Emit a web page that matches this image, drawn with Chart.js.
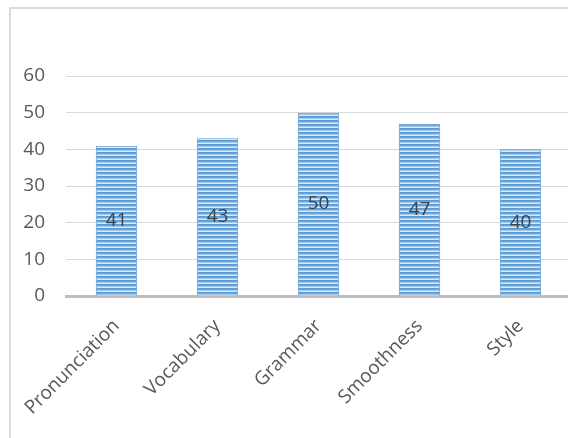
<!DOCTYPE html>
<html>
<head>
<meta charset="utf-8">
<script src="https://cdn.jsdelivr.net/npm/chart.js@4.4.1/dist/chart.umd.min.js"></script>
<style>
  html, body { margin: 0; padding: 0; background: #fff; overflow: hidden; width: 568px; height: 438px; }
  #frame { position: absolute; left: 9px; top: 7px; width: 800px; height: 800px; border-left: 2px solid #dcdcdc; border-top: 2px solid #dcdcdc; }
  #wrap { position: absolute; left: 0; top: 0; width: 600px; height: 438px; }
</style>
</head>
<body>
<div id="frame"></div>
<div id="wrap"><canvas id="c"></canvas></div>
<script>
const categories = ['Pronunciation', 'Vocabulary', 'Grammar', 'Smoothness', 'Style'];
const values = [41, 43, 50, 47, 40];
const yTicks = [0, 10, 20, 30, 40, 50, 60];

function stripePattern() {
  const p = document.createElement('canvas');
  p.width = 4; p.height = 4;
  const g = p.getContext('2d');
  g.fillStyle = '#5b9bd5'; g.fillRect(0, 0, 4, 1);
  g.fillStyle = '#6aa4db'; g.fillRect(0, 1, 4, 1);
  g.fillStyle = '#a6c9ea'; g.fillRect(0, 2, 4, 1);
  g.fillStyle = '#dbe9f7'; g.fillRect(0, 3, 4, 1);
  return document.getElementById('c').getContext('2d').createPattern(p, 'repeat');
}

const labelPlugin = {
  id: 'centerLabels',
  afterDatasetsDraw(chart) {
    const ctx = chart.ctx;
    const meta = chart.getDatasetMeta(0);
    ctx.save();
    ctx.font = '19px "Open Sans"';
    ctx.fillStyle = '#404040';
    ctx.textAlign = 'center';
    ctx.textBaseline = 'middle';
    meta.data.forEach((bar, i) => {
      const y = (bar.y + bar.base) / 2;
      ctx.fillText(String(values[i]), bar.x, y);
    });
    ctx.restore();
  }
};

new Chart(document.getElementById('c'), {
  type: 'bar',
  data: {
    labels: categories,
    datasets: [{
      data: values,
      backgroundColor: stripePattern(),
      borderColor: '#5b9bd5',
      borderWidth: { left: 1, right: 1, top: 1, bottom: 0 },
      borderSkipped: false,
      categoryPercentage: 1.0,
      barPercentage: 0.41
    }]
  },
  options: {
    responsive: true,
    maintainAspectRatio: false,
    animation: false,
    layout: { padding: { top: 76, left: 0, right: 29, bottom: 0 } },
    plugins: { legend: { display: false }, tooltip: { enabled: false } },
    scales: {
      x: {
        grid: { display: false, drawTicks: false },
        border: { display: true, color: '#bfbfbf', width: 3 },
        ticks: {
          color: '#595959',
          font: { family: 'Open Sans', size: 19 },
          maxRotation: 45, minRotation: 45,
          padding: 19
        },
        afterFit(scale) { scale.height = 142; }
      },
      y: {
        min: 0, max: 60,
        afterBuildTicks(scale) { scale.ticks = yTicks.map(v => ({ value: v })); },
        grid: { color: '#d9d9d9', lineWidth: 1, drawTicks: false },
        border: { display: false },
        ticks: {
          color: '#595959',
          font: { family: 'Open Sans', size: 19 },
          padding: 21
        },
        afterFit(scale) { scale.width = 66; }
      }
    }
  },
  plugins: [labelPlugin]
});
</script>
</body>
</html>
